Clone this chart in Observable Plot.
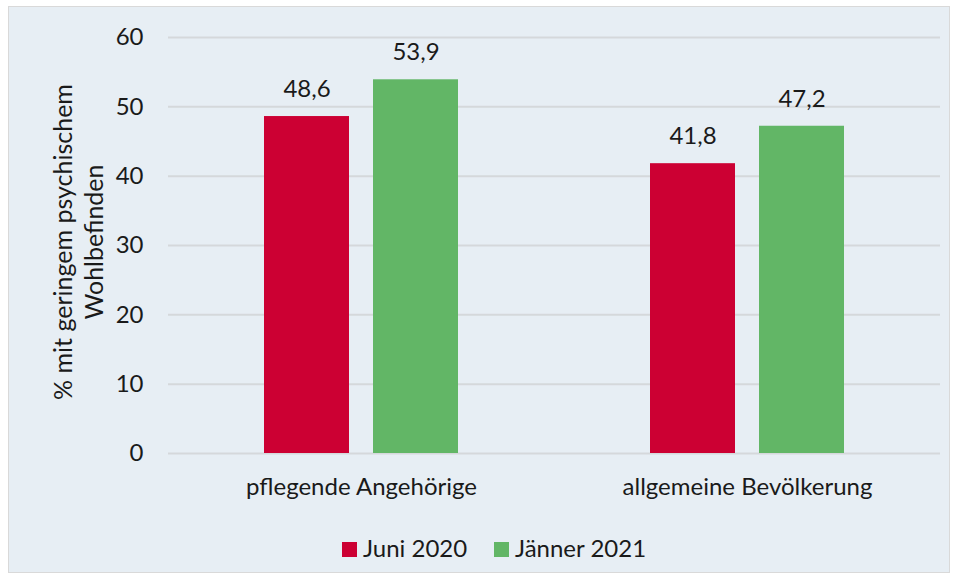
<!DOCTYPE html>
<html><head><meta charset="utf-8">
<script src="https://cdn.jsdelivr.net/npm/d3@7"></script>
<script src="https://cdn.jsdelivr.net/npm/@observablehq/plot@0.6"></script>
<style>
body{margin:0;background:#fff;font-family:Lato, "Open Sans", sans-serif;color:#1a1a1a;}
#panel{position:absolute;left:8px;top:6px;width:940px;height:565px;background:#e7eef4;border:1px solid #d9d9d9;overflow:hidden;}
#chart{position:absolute;left:0;top:0;}
#ylabel{position:absolute;left:-131px;top:204px;width:400px;height:62px;line-height:31px;text-align:center;font-size:25px;transform:rotate(-90deg);transform-origin:center;}
.item{position:absolute;top:529px;display:flex;align-items:center;font-size:24px;line-height:24px;white-space:nowrap;}
.sw{width:15px;height:15px;margin-right:6px;margin-top:2px;}
</style></head><body>
<div id="panel"><div id="chart"></div><div id="ylabel">% mit geringem psychischem<br>Wohlbefinden</div><div id="legend"></div></div>
<script>
const categories = ["pflegende Angehörige", "allgemeine Bevölkerung"];
const seriesNames = ["Juni 2020", "Jänner 2021"];
const juni2020 = [48.6, 41.8];
const jaenner2021 = [53.9, 47.2];
const yTicks = [0, 10, 20, 30, 40, 50, 60];
const colors = ["#cc0033", "#62b666"];

const data = categories.flatMap((c, i) => [
  {category: c, series: seriesNames[0], value: juni2020[i]},
  {category: c, series: seriesNames[1], value: jaenner2021[i]}
]);
const fmt = v => v.toFixed(1).replace(".", ",");

const chart = Plot.plot({
  width: 940, height: 510,
  marginLeft: 159, marginRight: 9, marginTop: 30, marginBottom: 64,
  style: {background: "transparent", fontFamily: "Lato, 'Open Sans', sans-serif", fontSize: "24px", color: "#1a1a1a"},
  fx: {domain: categories, padding: 0, label: null, axis: "bottom", tickSize: 0, tickPadding: 24},
  x: {domain: seriesNames, paddingInner: 0.218, paddingOuter: 0.864, axis: null},
  y: {domain: [0, 60], ticks: yTicks, tickSize: 0, tickPadding: 25, label: null},
  color: {domain: seriesNames, range: colors},
  marks: [
    Plot.gridY(yTicks, {stroke: "#d5d8db", strokeOpacity: 1, strokeWidth: 2}),
    Plot.barY(data, {fx: "category", x: "series", y: "value", fill: "series"}),
    Plot.text(data, {fx: "category", x: "series", y: "value", text: d => fmt(d.value), dy: -27, lineAnchor: "middle", fill: "#1a1a1a", fontSize: 24})
  ]
});
document.getElementById("chart").appendChild(chart);

const legend = document.getElementById("legend");
const lefts = [333, 485];
seriesNames.forEach((s, i) => {
  const it = document.createElement("div");
  it.className = "item";
  it.style.left = lefts[i] + "px";
  const sw = document.createElement("span");
  sw.className = "sw";
  sw.style.background = colors[i];
  const t = document.createElement("span");
  t.textContent = s;
  it.appendChild(sw); it.appendChild(t);
  legend.appendChild(it);
});
</script>
</body></html>
